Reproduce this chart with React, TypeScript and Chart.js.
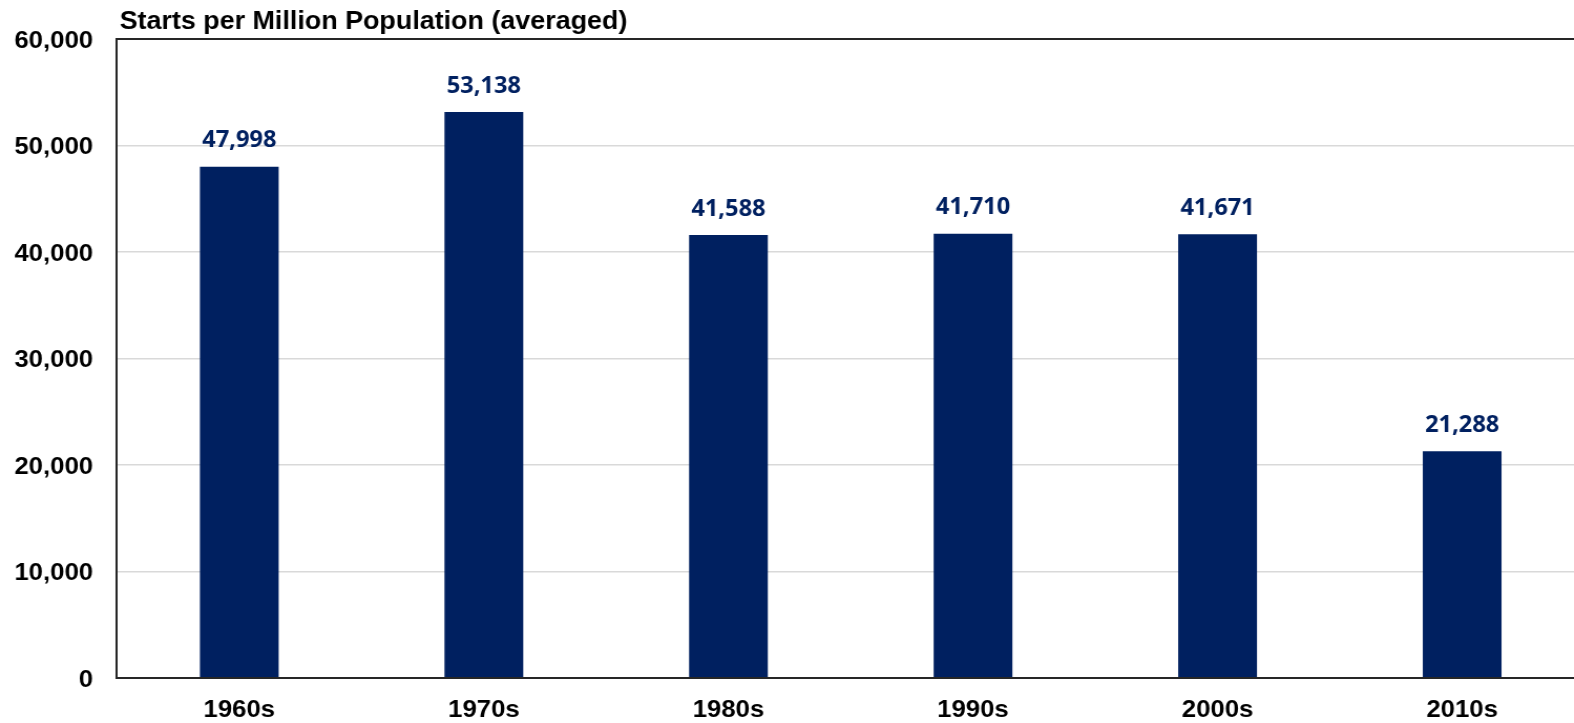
import React, { useEffect, useRef } from "react";
import { Chart, registerables } from "chart.js";

Chart.register(...registerables);

const categories = ["1960s", "1970s", "1980s", "1990s", "2000s", "2010s"];
const startsPerMillion = [47998, 53138, 41588, 41710, 41671, 21288];
const yTicks = [0, 10000, 20000, 30000, 40000, 50000, 60000];
const chartTitle = "Starts per Million Population (averaged)";

const STRETCH = 1.05;
const CANVAS_W = 1509;
const CANVAS_H = 723;
const NAVY = "#002060";
const DARK = "#262626";

const fmt = (v: number) => v.toLocaleString("en-US");

const labelPlugin = {
  id: "barLabels",
  afterDatasetsDraw(chart: any) {
    const ctx = chart.ctx;
    const meta = chart.getDatasetMeta(0);
    ctx.save();
    ctx.font = "bold 22.5px 'Open Sans'";
    ctx.fillStyle = NAVY;
    ctx.textAlign = "center";
    ctx.textBaseline = "alphabetic";
    meta.data.forEach((bar: any, i: number) => {
      ctx.fillText(fmt(startsPerMillion[i]), bar.x, bar.y - 19.5);
    });
    ctx.restore();
  },
};

const titlePlugin = {
  id: "cornerTitle",
  afterDraw(chart: any) {
    const ctx = chart.ctx;
    ctx.save();
    ctx.font = "bold 25.6px 'Liberation Sans'";
    ctx.fillStyle = "#000";
    ctx.textAlign = "left";
    ctx.textBaseline = "alphabetic";
    ctx.fillText(chartTitle, chart.chartArea.left + 2.5, 28.5);
    ctx.restore();
  },
};

export default function App() {
  const canvasRef = useRef<HTMLCanvasElement | null>(null);

  useEffect(() => {
    if (!canvasRef.current) return;
    const chart = new Chart(canvasRef.current, {
      type: "bar",
      data: {
        labels: categories,
        datasets: [
          {
            data: startsPerMillion,
            backgroundColor: NAVY,
            borderWidth: 0,
            barPercentage: 0.322,
            categoryPercentage: 1,
          },
        ],
      },
      options: {
        responsive: false,
        animation: false,
        devicePixelRatio: 1,
        layout: { padding: { top: 39, left: 0, right: 0, bottom: 0 } },
        plugins: {
          legend: { display: false },
          tooltip: { enabled: false },
          title: { display: false },
        },
        scales: {
          x: {
            offset: true,
            grid: { display: false, drawTicks: false },
            border: { display: true, color: DARK, width: 2 },
            ticks: {
              color: "#000",
              padding: 17.5,
              font: { family: "'Liberation Sans'", size: 24.5, weight: "bold" },
              maxRotation: 0,
              autoSkip: false,
            },
            afterFit(scale: any) {
              scale.height = 45;
            },
          },
          y: {
            min: 0,
            max: 60000,
            afterBuildTicks(scale: any) {
              scale.ticks = yTicks.map((v) => ({ value: v }));
            },
            grid: {
              drawTicks: false,
              color: (c: any) =>
                c.tick && (c.tick.value === 60000 || c.tick.value === 0) ? DARK : "#d9d9d9",
              lineWidth: (c: any) =>
                c.tick && (c.tick.value === 60000 || c.tick.value === 0) ? 2 : 1.5,
            },
            border: { display: true, color: DARK, width: 2 },
            ticks: {
              color: "#000",
              padding: 22.8,
              labelOffset: 2,
              font: { family: "'Liberation Sans'", size: 24.5, weight: "bold" },
              callback: (v: any) => fmt(Number(v)),
            },
            afterFit(scale: any) {
              scale.width = 117 / STRETCH;
            },
          },
        },
      },
      plugins: [labelPlugin, titlePlugin],
    });
    return () => chart.destroy();
  }, []);

  return (
    <div
      style={{
        position: "fixed",
        left: 0,
        top: 0,
        width: 1574,
        height: 723,
        overflow: "hidden",
        background: "#fff",
      }}
    >
      <canvas
        ref={canvasRef}
        width={CANVAS_W}
        height={CANVAS_H}
        style={{
          display: "block",
          width: CANVAS_W,
          height: CANVAS_H,
          transform: `scaleX(${STRETCH})`,
          transformOrigin: "0 0",
        }}
      />
    </div>
  );
}
